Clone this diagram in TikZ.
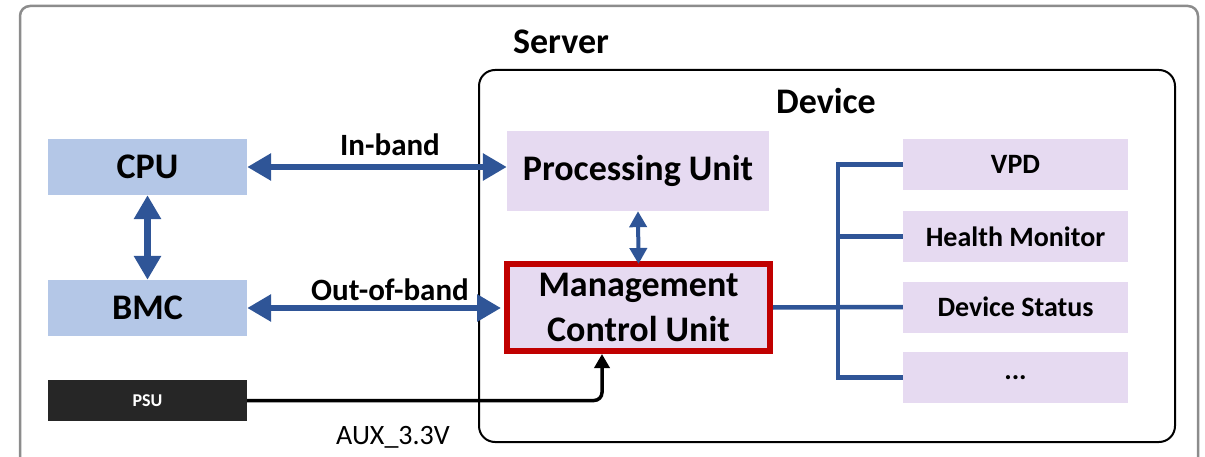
\documentclass[tikz,border=0pt]{standalone}
\usepackage{fontspec}
\setmainfont{Carlito}
\usetikzlibrary{arrows.meta}
\definecolor{arrblue}{HTML}{2F5597}
\definecolor{cpublue}{HTML}{B4C7E7}
\definecolor{lav}{HTML}{E6DAF1}
\definecolor{mcured}{HTML}{C00000}
\definecolor{psuk}{HTML}{262626}
\definecolor{srvgray}{HTML}{8C8C8C}
\tikzset{
  hostbox/.style={fill=cpublue, draw=none, minimum width=199pt, minimum height=56pt, inner sep=0pt, font=\fontsize{36}{40}\selectfont\bfseries},
  itembox/.style={fill=lav, draw=none, minimum width=225pt, minimum height=51pt, inner sep=0pt, font=\fontsize{28}{32}\selectfont\bfseries},
  biglink/.style={arrblue, line width=6.5pt, {Triangle[length=24pt,width=26pt]}-{Triangle[length=24pt,width=26pt]}},
  smalllink/.style={arrblue, line width=4pt, {Triangle[length=16pt,width=17pt]}-{Triangle[length=16pt,width=17pt]}},
  bus/.style={arrblue, line width=4.5pt, line join=miter},
  lbl/.style={font=\fontsize{31}{34}\selectfont\bfseries, inner sep=0pt},
  ttl/.style={font=\fontsize{36}{40}\selectfont\bfseries, inner sep=0pt},
}
\begin{document}
\begin{tikzpicture}[x=1pt, y=-1pt]
\useasboundingbox (0,0) rectangle (1205,457);
\begin{scope}
\clip (0,0) rectangle (1205,457);
\draw[srvgray, line width=2.5pt, rounded corners=10pt] (20,480) rectangle (1198,6);
\end{scope}
\node[ttl] (server) at (561,42) {Server};
\draw[black, line width=2pt, rounded corners=16pt] (479,70) rectangle (1175,442);
\node[ttl] (device) at (826,101) {Device};

\node[hostbox] (cpu) at (147.5,167) {CPU};
\node[hostbox] (bmc) at (147.5,308) {BMC};
\node[fill=psuk, text=white, minimum width=199pt, minimum height=41pt, inner sep=0pt, font=\fontsize{18}{20}\selectfont\bfseries] (psu) at (147.5,400.5) {PSU};

\node[fill=lav, minimum width=262pt, minimum height=80pt, inner sep=0pt, font=\fontsize{36}{40}\selectfont\bfseries] (pu) at (638,171) {Processing Unit};
\node[fill=lav, draw=mcured, line width=6pt, minimum width=263pt, minimum height=87pt, inner sep=0pt, align=center, font=\fontsize{36}{45}\selectfont\bfseries] (mcu) at (638.5,307.5) {Management\\Control Unit};

\node[itembox] (vpd) at (1015.5,164.5) {VPD};
\node[itembox] (hm) at (1015.5,236.5) {Health Monitor};
\node[itembox] (ds) at (1015.5,307) {Device Status};
\node[itembox] (more) at (1015.5,377.5) {...};

\draw[biglink] (cpu.east) -- (pu.west |- cpu.east);
\node[lbl] (inband) at (390,145) {In-band};
\draw[biglink] (bmc.east) -- ([xshift=-3pt]mcu.west |- bmc.east);
\node[lbl] (oob) at (390,290) {Out-of-band};
\draw[biglink] (cpu.south) -- (bmc.north);
\draw[smalllink] (pu.south) -- ([yshift=-3pt]mcu.north);

\coordinate (btop) at (838,164.5);
\coordinate (bbot) at (838,377.5);
\draw[bus] (vpd.west) -- (btop) -- (bbot) -- (more.west);
\draw[bus] (hm.west) -- (btop |- hm.west);
\draw[bus] (mcu.east) -- (ds.west);

\draw[black, line width=3.5pt, rounded corners=8pt, -{Triangle[length=14pt,width=15pt]}] (psu.east) -| ([xshift=-36.5pt]mcu.south);
\node[font=\fontsize{28}{32}\selectfont, inner sep=0pt] (aux) at (393,437) {AUX\_3.3V};
\end{tikzpicture}
\end{document}
